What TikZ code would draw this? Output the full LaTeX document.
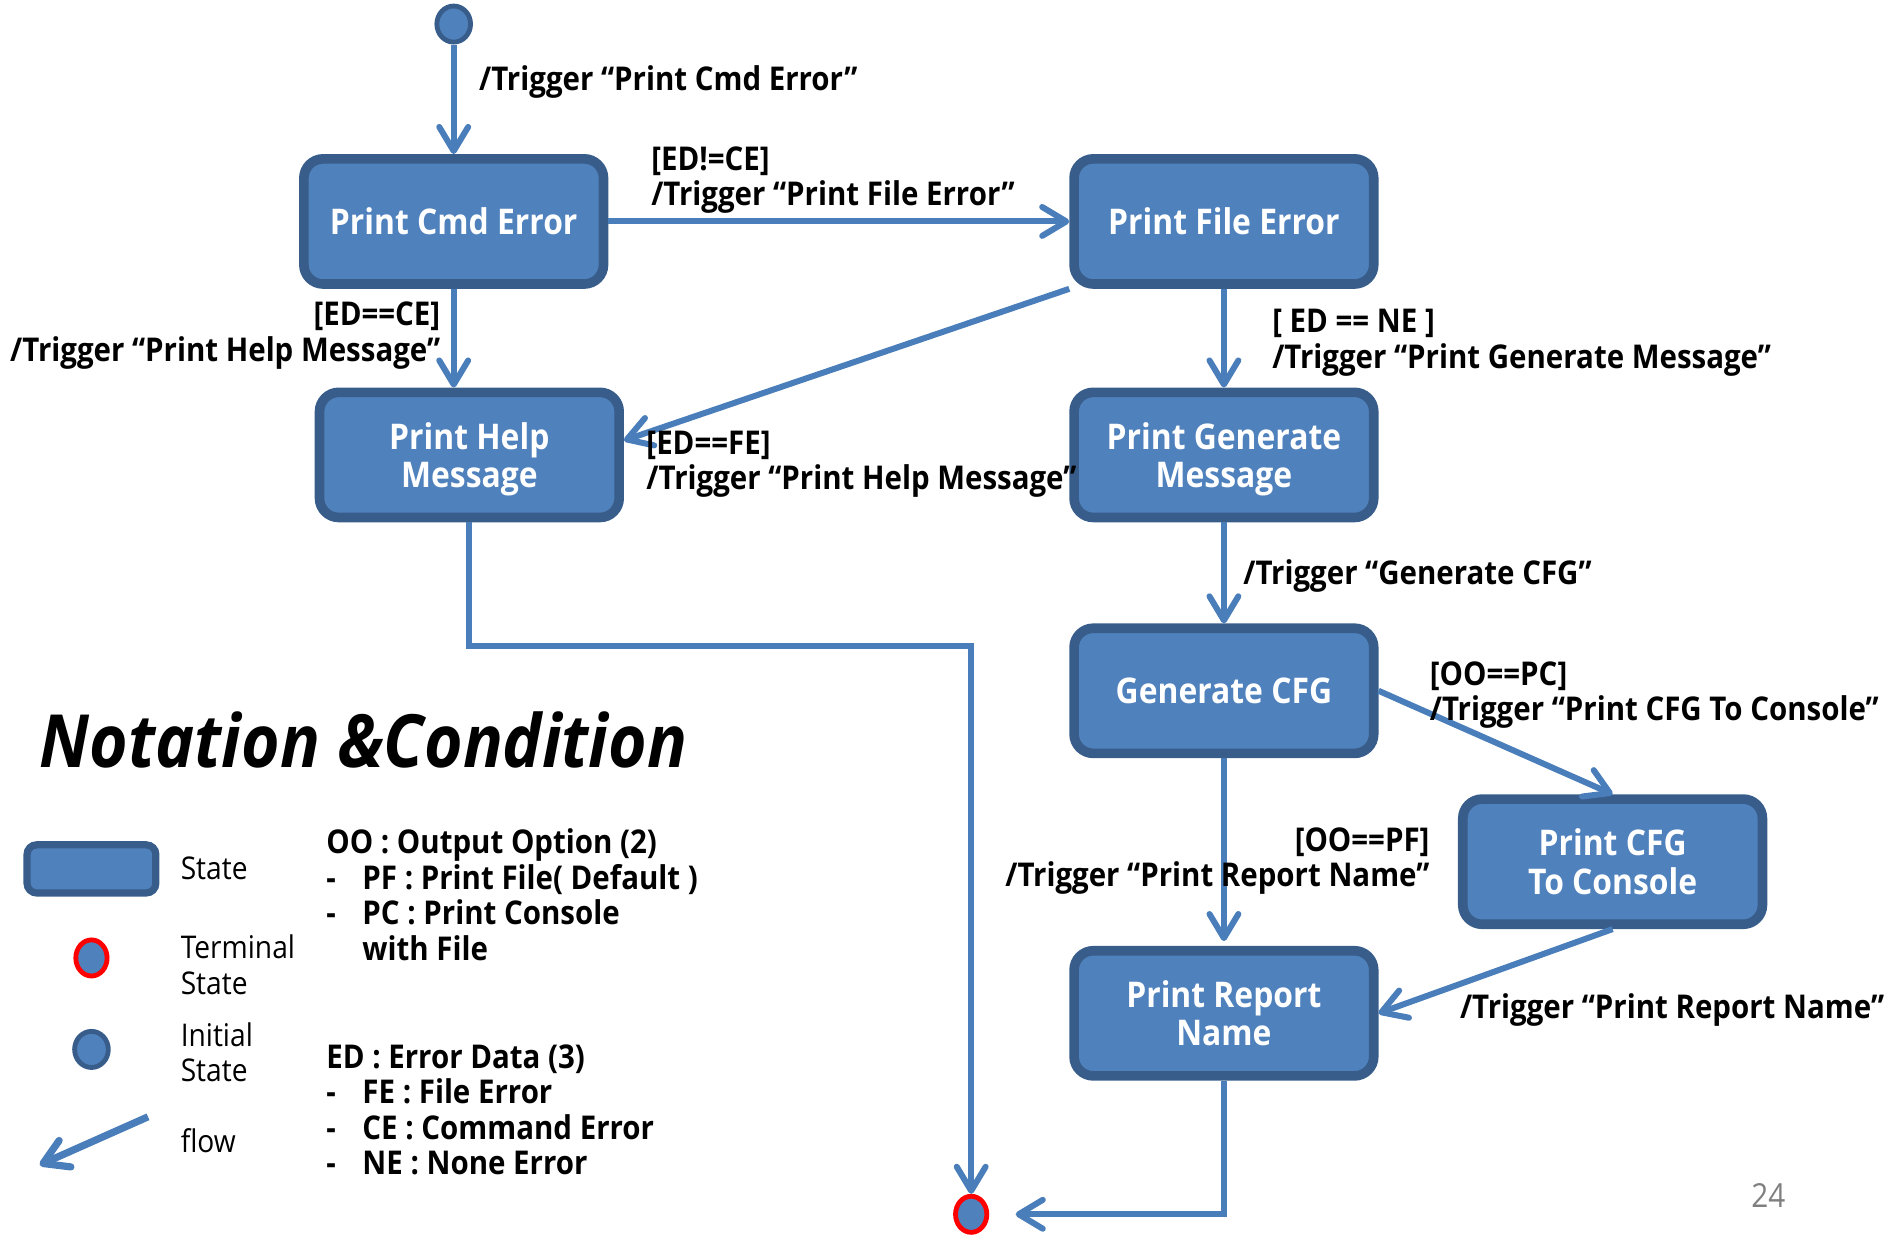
\documentclass[tikz,border=0pt]{standalone}
\usepackage{fontspec}
\setmainfont{Open Sans}[FakeStretch=0.9]
\usetikzlibrary{arrows.meta,calc,shapes.geometric}

\definecolor{statefill}{HTML}{4F81BD}
\definecolor{stateedge}{HTML}{385D8A}
\definecolor{flowblue}{HTML}{4A7EBB}
\definecolor{termred}{HTML}{FF0000}
\definecolor{pagegray}{HTML}{7F7F7F}

% last line without descender depth, so two-line states centre like the others
\newcommand{\nodepth}[1]{\raisebox{0pt}[\height][0pt]{#1}}

\begin{document}
\begin{tikzpicture}[x=1pt,y=-1pt,
  statebox/.style={rectangle, rounded corners=16pt, draw=stateedge, line width=8pt,
    fill=statefill, text=white, font=\bfseries\fontsize{29.4}{32}\selectfont,
    minimum width=249pt, minimum height=104pt, align=center, inner sep=0pt},
  legbox/.style={rectangle, rounded corners=8pt, draw=stateedge, line width=6pt,
    fill=statefill, minimum width=107pt, minimum height=40pt, inner sep=0pt},
  initdot/.style={ellipse, draw=stateedge, line width=4pt, fill=statefill,
    minimum width=28pt, minimum height=30pt, inner sep=0pt},
  termdot/.style={ellipse, draw=termred, line width=4pt, fill=statefill,
    minimum width=26pt, minimum height=30pt, inner sep=0pt},
  flow/.style={draw=flowblue, line width=5pt,
    -{Straight Barb[length=20pt, width=24pt, round]}},
  lbl/.style={font=\bfseries\fontsize{27.2}{29.5}\selectfont, inner sep=0pt, align=left},
  legtxt/.style={font=\fontsize{26}{29.5}\selectfont, inner sep=0pt, align=left},
]
\useasboundingbox (0,0) rectangle (1568,1026);

% states
\node[initdot] (init) at (377,20) {};
\node[statebox] (cmd) at (377,184) {Print Cmd Error};
\node[statebox] (file) at (1017,184) {Print File Error};
\node[statebox] (help) at (390,378) {Print Help\\\nodepth{Message}};
\node[statebox] (gen) at (1017,378) {Print Generate\\\nodepth{Message}};
\node[statebox] (cfg) at (1017,574) {Generate CFG};
\node[statebox] (console) at (1340,716) {Print CFG\\To Console};
\node[statebox] (report) at (1017,842) {Print Report\\Name};
\node[termdot] (term) at (807,1009) {};

% transitions
\draw[flow] (init) -- (cmd);
\draw[flow] (cmd) -- (file);
\draw[flow] (cmd.south) -- (cmd.south |- help.north);
\draw[flow] (file.south west) -- ($(help.east)+(0,-12)$);
\draw[flow] (file) -- (gen);
\draw[flow] (gen) -- (cfg);
\draw[flow] (cfg.east) -- (console.north);
\draw[flow, shorten >=4pt] (cfg) -- (report);
\draw[flow] (console.south) -- (report.east);
\coordinate (bend) at (807,537);
\draw[flow] (help.south) |- (bend) -- (term.north);
\draw[flow, shorten >=22pt] (report.south) |- (term.east);

% transition labels (multi-line nodes sit on their last baseline)
\node[lbl, anchor=base west] (l1) at (398,75) {/Trigger “Print Cmd Error”};
\node[lbl, anchor=base west] (l2) at (541,171) {[ED!=CE]\\/Trigger “Print File Error”};
\node[lbl, anchor=base east, align=right] (l3) at (366,300) {[ED==CE]\\/Trigger “Print Help Message”};
\node[lbl, anchor=base west] (l4) at (537,407) {[ED==FE]\\/Trigger “Print Help Message”};
\node[lbl, anchor=base west] (l5) at (1057,306) {[ ED == NE ]\\/Trigger “Print Generate Message”};
\node[lbl, anchor=base west] (l6) at (1033,486) {/Trigger “Generate CFG”};
\node[lbl, anchor=base west] (l7) at (1188,599) {[OO==PC]\\/Trigger “Print CFG To Console”};
\node[lbl, anchor=base east, align=right] (l8) at (1188,737) {[OO==PF]\\/Trigger “Print Report Name”};
\node[lbl, anchor=base west] (l9) at (1213,846) {/Trigger “Print Report Name”};

% legend
\node[font=\bfseries\itshape\fontsize{61}{66}\selectfont, inner sep=0pt, anchor=base west] (title) at (33,638) {Notation \&Condition};
\node[legbox] (lstate) at (76,722) {};
\node[legtxt, anchor=base west] (tstate) at (150,731) {State};
\node[termdot] (lterm) at (76,796) {};
\node[legtxt, anchor=base west] (tterm) at (150,826) {Terminal\\State};
\node[initdot] (linit) at (76,872) {};
\node[legtxt, anchor=base west] (tinit) at (150,899) {Initial\\State};
\coordinate (fa) at (123,928);
\coordinate (fb) at (33,968);
\draw[flow, line width=6pt] (fa) -- (fb);
\node[legtxt, anchor=base west] (tflow) at (150,958) {flow};

% conditions
\node[lbl, anchor=base west] (oo) at (271,798) {OO : Output Option (2)\\
  \makebox[30pt][l]{-}PF : Print File( Default )\\
  \makebox[30pt][l]{-}PC : Print Console\\
  \hspace*{30pt}with File};
\node[lbl, anchor=base west] (ed) at (271,976) {ED : Error Data (3)\\
  \makebox[30pt][l]{-}FE : File Error\\
  \makebox[30pt][l]{-}CE : Command Error\\
  \makebox[30pt][l]{-}NE : None Error};

\node[font=\fontsize{27.5}{30}\selectfont, text=pagegray, inner sep=0pt, anchor=base west] (page) at (1455,1003) {24};
\end{tikzpicture}
\end{document}
